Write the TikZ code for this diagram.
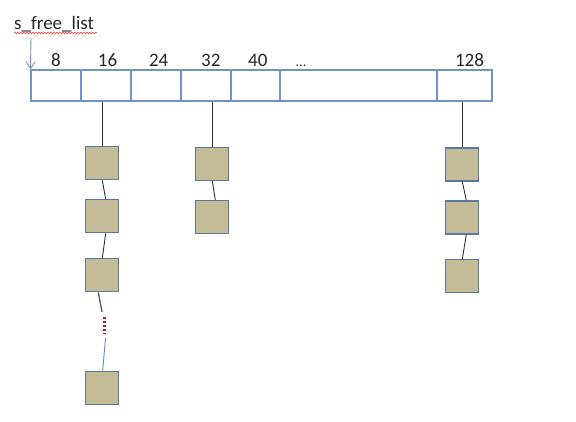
\documentclass[tikz,border=0pt]{standalone}
\usepackage{fontspec}
\setmainfont{Carlito}
\usetikzlibrary{positioning, arrows.meta, decorations.pathmorphing}
\usepackage{xcolor}
\definecolor{cellblue}{HTML}{7094C8}
\definecolor{boxedge}{HTML}{5A78A2}
\definecolor{boxtan}{HTML}{C4BC96}
\definecolor{linkgray}{HTML}{2E2E2E}
\definecolor{linkblue}{HTML}{5B8BD0}
\definecolor{dotsred}{HTML}{7A2A50}
\definecolor{textdark}{HTML}{262626}

\begin{document}
\begin{tikzpicture}[
      x=1pt, y=-1pt,
      every node/.style={font=\fontsize{19}{22}\selectfont, text=textdark},
      cell/.style={draw=cellblue, line width=1.1pt, inner sep=0pt,
                   minimum height=31pt, minimum width=#1},
      chunk/.style={draw=boxedge, fill=boxtan, line width=1.2pt,
                    inner sep=0pt, minimum size=33pt},
      size/.style={anchor=base},
      link/.style={draw=linkgray, line width=0.9pt},
    ]
    \useasboundingbox (0,0) rectangle (576,422);

    % Head pointer
    \node[anchor=base west, inner sep=0pt] (head) at (14,29.5) {s\_free\_list};
    \draw[red!75, line width=0.6pt,
          decorate, decoration={snake, amplitude=0.8pt, segment length=3pt}]
      ([yshift=-3.5pt]head.base west) -- ([xshift=3pt, yshift=-3.5pt]head.base east);
    \coordinate (start) at (31,38);

    % Size-class array
    \node[cell=50pt]  (c8)    at (56,85.5)    {};
    \node[cell=50pt]  (c16)   at (106,85.5)   {};
    \node[cell=50pt]  (c24)   at (156,85.5)   {};
    \node[cell=50pt]  (c32)   at (206,85.5)   {};
    \node[cell=49pt]  (c40)   at (255.5,85.5) {};
    \node[cell=157pt] (cdots) at (358.5,85.5) {};
    \node[cell=55pt]  (c128)  at (464.5,85.5) {};

    \node[size] (l8)    at (56,66.5)    {8};
    \node[size] (l16)   at (107.5,66.5) {16};
    \node[size] (l24)   at (158.7,66.5) {24};
    \node[size] (l32)   at (210.8,66.5) {32};
    \node[size] (l40)   at (257.8,66.5) {40};
    \node[size, font=\fontsize{14}{16}\selectfont] (ldots) at (301,66.5) {...};
    \node[size] (l128)  at (469.5,66.5) {128};

    \draw[cellblue, line width=0.9pt, -{Straight Barb[length=7pt, width=9pt]}]
      (start) -- (c8.north west);

    % Free chunks
    \node[chunk] (q16a) at (102.3,163.3) {};
    \node[chunk] (q16b) at (102.3,216.3) {};
    \node[chunk] (q16c) at (102.3,275.3) {};
    \node[inner sep=0pt, minimum width=2pt, minimum height=26pt] (vdots) at (104.5,325) {};
    \node[chunk] (q16d) at (102.3,387.7) {};

    \node[chunk] (q32a) at (212.3,164)  {};
    \node[chunk] (q32b) at (212.3,217)  {};

    \node[chunk] (q128a) at (462.3,164.5) {};
    \node[chunk] (q128b) at (462.3,217.5) {};
    \node[chunk] (q128c) at (462.3,276.3) {};

    % Links
    \draw[link] (q16a.north |- c16.south) -- (q16a.north);
    \draw[link] (q16a.south) -- ([xshift=3.4pt]q16b.north);
    \draw[link] ([xshift=3.4pt]q16b.south) -- (q16c.north);
    \draw[link, line width=1.3pt, linkgray!80] ([xshift=-4pt]q16c.south) -- ([xshift=-2.5pt]vdots.north);
    \draw[dotsred, line width=2.6pt, dash pattern=on 2.4pt off 1.6pt]
      ([yshift=-5pt]vdots.north) -- ([yshift=5pt]vdots.south);
    \draw[linkblue, line width=0.9pt] ([xshift=1pt]vdots.south) -- ([xshift=0.4pt]q16d.north);

    \draw[link] (q32a.north |- c32.south) -- (q32a.north);
    \draw[link] (q32a.south) -- ([xshift=3pt]q32b.north);

    \draw[link] (q128a.north |- c128.south) -- (q128a.north);
    \draw[link] (q128a.south) -- ([xshift=4pt]q128b.north);
    \draw[link] ([xshift=4pt]q128b.south) -- (q128c.north);
  \end{tikzpicture}
\end{document}
